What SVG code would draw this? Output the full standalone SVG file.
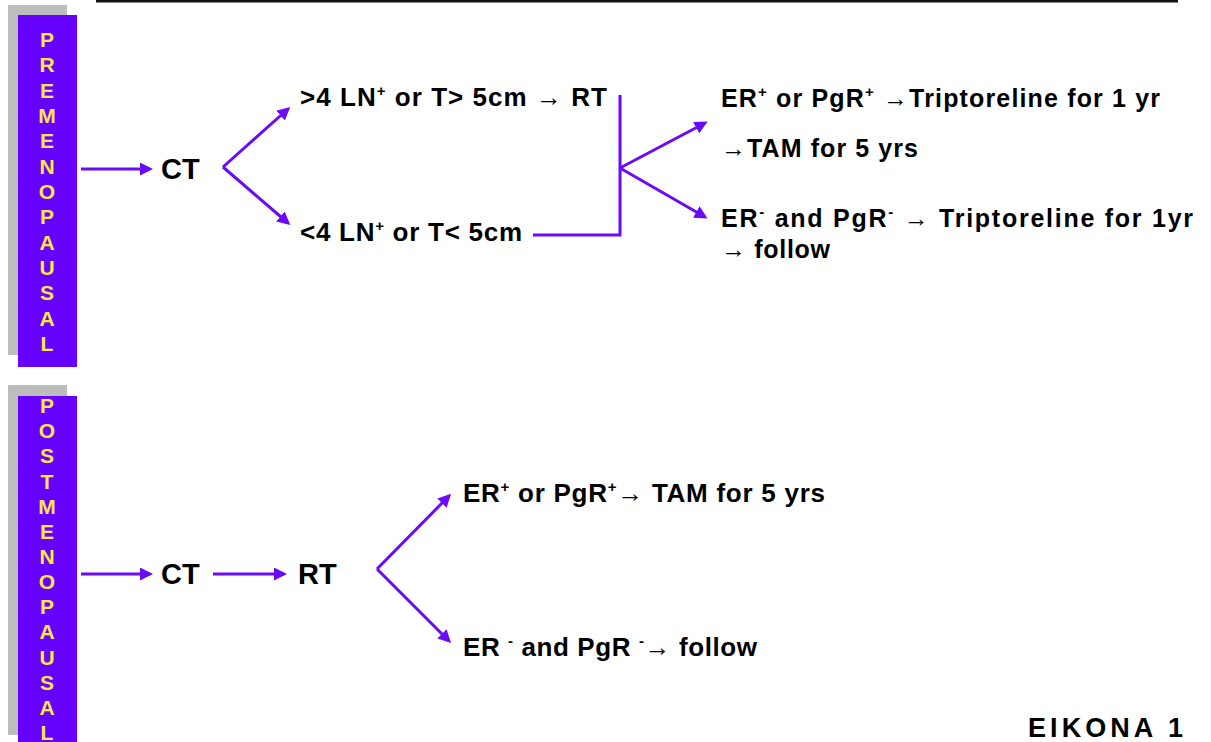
<svg xmlns="http://www.w3.org/2000/svg" width="1211" height="742" viewBox="0 0 1211 742">
<defs>
<marker id="ah" markerUnits="userSpaceOnUse" markerWidth="13" markerHeight="13" viewBox="0 0 13 13" refX="10" refY="6.5" orient="auto">
<path d="M0,0 L13,6.5 L0,13 z" fill="#6A0AF6"/>
</marker>
</defs>
<style>
.bar{fill:#6600FF}
.sh{fill:#BDBDBD}
.vl{font-family:"Liberation Sans",Arial,sans-serif;font-weight:bold;font-size:21px;fill:#FFE640;text-anchor:middle}
.t{font-family:"Liberation Sans",Arial,sans-serif;font-weight:bold;fill:#000}
.big{font-size:29px}
.mid{font-size:26px}
.sm{font-size:25px}
.sup{font-size:15px}
.c{fill:none;stroke:#6A0AF6;stroke-width:3}
.ca{fill:none;stroke:#6A0AF6;stroke-width:3;marker-end:url(#ah)}
</style>
<rect width="1211" height="742" fill="#fff"/>
<line x1="96" y1="1" x2="1178" y2="1" stroke="#111" stroke-width="3"/>

<g id="premenopausal">
<rect class="sh" x="8" y="5" width="59" height="350"/>
<rect class="bar" x="18" y="15" width="59" height="352"/>
<text class="vl"><tspan x="47" y="47">P</tspan><tspan x="47" y="72.3">R</tspan><tspan x="47" y="97.7">E</tspan><tspan x="47" y="123">M</tspan><tspan x="47" y="148.3">E</tspan><tspan x="47" y="173.7">N</tspan><tspan x="47" y="199">O</tspan><tspan x="47" y="224.3">P</tspan><tspan x="47" y="249.7">A</tspan><tspan x="47" y="275">U</tspan><tspan x="47" y="300.3">S</tspan><tspan x="47" y="325.7">A</tspan><tspan x="47" y="351">L</tspan></text>
</g>

<g id="postmenopausal">
<rect class="sh" x="8" y="385" width="59" height="350"/>
<rect class="bar" x="18" y="396" width="59" height="350"/>
<text class="vl"><tspan x="47" y="413">P</tspan><tspan x="47" y="438.2">O</tspan><tspan x="47" y="463.3">S</tspan><tspan x="47" y="488.5">T</tspan><tspan x="47" y="513.6">M</tspan><tspan x="47" y="538.8">E</tspan><tspan x="47" y="563.9">N</tspan><tspan x="47" y="589.1">O</tspan><tspan x="47" y="614.2">P</tspan><tspan x="47" y="639.4">A</tspan><tspan x="47" y="664.5">U</tspan><tspan x="47" y="689.7">S</tspan><tspan x="47" y="714.8">A</tspan><tspan x="47" y="740">L</tspan></text>
</g>

<g id="pre-ct"><text class="t big" x="161" y="179">CT</text></g>
<g id="pre-high"><text class="t mid" x="300" y="106" textLength="307" lengthAdjust="spacing">&gt;4 LN<tspan class="sup" dy="-10">+</tspan><tspan dy="10"> or T&gt; 5cm  →  RT</tspan></text></g>
<g id="pre-low"><text class="t mid" x="300" y="241" textLength="222" lengthAdjust="spacing">&lt;4 LN<tspan class="sup" dy="-10">+</tspan><tspan dy="10"> or T&lt; 5cm</tspan></text></g>
<g id="pre-pos">
<text class="t sm" x="721" y="107" textLength="439" lengthAdjust="spacing">ER<tspan class="sup" dy="-10">+</tspan><tspan dy="10"> or PgR</tspan><tspan class="sup" dy="-10">+</tspan><tspan dy="10"> →Triptoreline  for 1 yr</tspan></text>
<text class="t sm" x="721" y="157" textLength="197" lengthAdjust="spacing">→TAM for 5 yrs</text>
</g>
<g id="pre-neg">
<text class="t sm" x="721" y="227" textLength="472" lengthAdjust="spacing">ER<tspan class="sup" dy="-10">-</tspan><tspan dy="10"> and PgR</tspan><tspan class="sup" dy="-10">-</tspan><tspan dy="10"> →  Triptoreline  for  1yr</tspan></text>
<text class="t sm" x="721" y="258" textLength="109" lengthAdjust="spacing">→ follow</text>
</g>

<g id="post-ct"><text class="t big" x="161" y="584">CT</text></g>
<g id="post-rt"><text class="t big" x="298" y="584">RT</text></g>
<g id="post-pos"><text class="t mid" x="463" y="502" textLength="362" lengthAdjust="spacing">ER<tspan class="sup" dy="-10">+</tspan><tspan dy="10"> or PgR</tspan><tspan class="sup" dy="-10">+</tspan><tspan dy="10">→ TAM for 5 yrs</tspan></text></g>
<g id="post-neg"><text class="t mid" x="463" y="656" textLength="294" lengthAdjust="spacing">ER <tspan class="sup" dy="-10">-</tspan><tspan dy="10"> and PgR </tspan><tspan class="sup" dy="-10">-</tspan><tspan dy="10">→ follow</tspan></text></g>

<g id="caption"><text class="t" font-size="27" x="1028" y="737" textLength="155" lengthAdjust="spacing">EIKONA  1</text></g>

<g id="connectors">
<line class="ca" x1="81" y1="169" x2="150" y2="169"/>
<line class="ca" x1="223" y1="167" x2="288" y2="109"/>
<line class="ca" x1="223" y1="167" x2="288" y2="223"/>
<polyline class="c" points="533,235 620,235 620,95"/>
<line class="ca" x1="620" y1="168" x2="705" y2="123"/>
<line class="ca" x1="620" y1="168" x2="705" y2="217"/>
<line class="ca" x1="81" y1="574" x2="150" y2="574"/>
<line class="ca" x1="213" y1="574" x2="284" y2="574"/>
<line class="ca" x1="377" y1="569" x2="449" y2="496"/>
<line class="ca" x1="377" y1="569" x2="449" y2="641"/>
</g>
</svg>
